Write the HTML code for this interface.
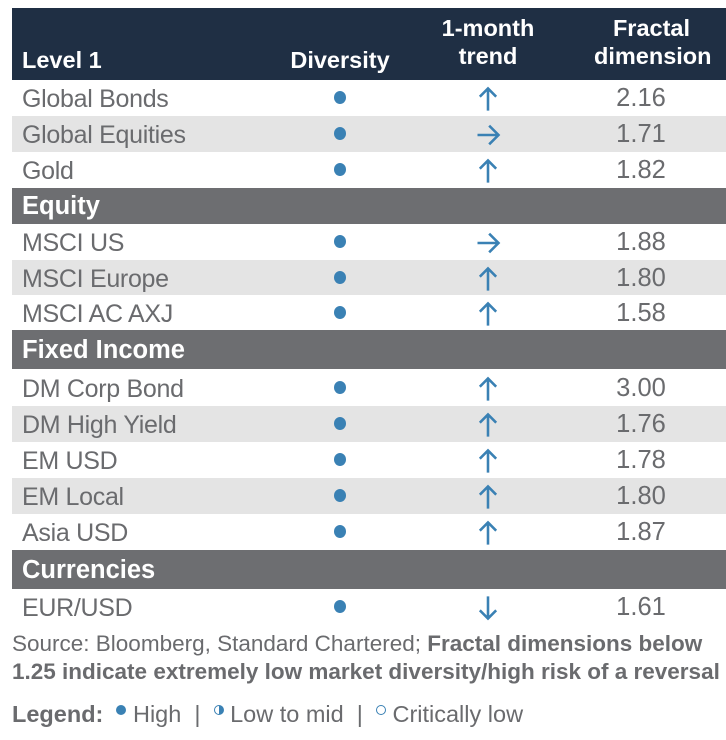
<!DOCTYPE html>
<html><head><meta charset="utf-8"><style>
body{margin:0;width:726px;height:740px;background:#fff;font-family:"Liberation Sans",sans-serif;position:relative;overflow:hidden}
.r{position:absolute;left:12px;width:714px}
.t{position:absolute;left:10px;font-size:25px;color:#6a6b6e;white-space:nowrap;line-height:1;letter-spacing:-0.3px}
.s{background:#6d6e71}
.s .t{color:#fff;font-weight:bold;left:10px;font-size:25.5px;letter-spacing:0}
.g{background:#e4e4e4}
.d{position:absolute;left:322px;width:12px;height:13px;border-radius:50%;background:#3a81b4}
.v{position:absolute;left:592px;width:74px;text-align:center;font-size:25.5px;color:#6a6b6e;line-height:1}
svg.a{position:absolute;left:462px}
.h{position:absolute;color:#fff;font-weight:bold;font-size:23.5px;line-height:28px;text-align:center;white-space:nowrap}
</style></head><body>
<div class="r" style="top:8px;height:72px;background:#1f2f44">
 <div class="h" style="top:38px;text-align:left;left:10px">Level 1</div>
 <div class="h" style="left:272px;top:38px;width:112px">Diversity</div>
 <div class="h" style="left:420px;top:6px;width:112px">1-month<br>trend</div>
 <div class="h" style="left:582px;top:6px;width:115px">Fractal<br>dimension</div>
</div>
<div id="rows"></div>
<script>
const U='<svg class="a" width="28" height="28" viewBox="0 0 24 24" style="top:ARRT"><path d="M12 22V3M5 10l7-7 7 7" stroke="#3a81b4" stroke-width="2.2" fill="none"/></svg>';
const R='<svg class="a" width="28" height="28" viewBox="0 0 24 24" style="top:ARRT"><path d="M3 12h18M13 4l8 8-8 8" stroke="#3a81b4" stroke-width="2.2" fill="none"/></svg>';
const D='<svg class="a" width="28" height="28" viewBox="0 0 24 24" style="top:ARRT"><path d="M12 2v19M5 14l7 7 7-7" stroke="#3a81b4" stroke-width="2.2" fill="none"/></svg>';
const rows=[
[80,36,'Global Bonds',U,'2.16',0],[116,36,'Global Equities',R,'1.71',1],[152,36,'Gold',U,'1.82',0],
[188,36,'Equity'],[224,36,'MSCI US',R,'1.88',0],[260,35,'MSCI Europe',U,'1.80',1],[295,35,'MSCI AC AXJ',U,'1.58',0],
[330,39,'Fixed Income'],[369,37,'DM Corp Bond',U,'3.00',0],[406,36,'DM High Yield',U,'1.76',1],[442,36,'EM USD',U,'1.78',0],
[478,36,'EM Local',U,'1.80',1],[514,36,'Asia USD',U,'1.87',0],[550,39,'Currencies'],[589,35,'EUR/USD',D,'1.61',0]];
let h='';
for(const r of rows){
 const [top,ht,l]=r;
 if(r.length==3){h+=`<div class="r s" style="top:${top}px;height:${ht}px"><div class="t" style="top:${ht/2-12}px">${l}</div></div>`;continue;}
 const c=ht/2;
 h+=`<div class="r ${r[5]?'g':''}" style="top:${top}px;height:${ht}px"><div class="t" style="top:${c-11}px">${l}</div><div class="d" style="top:${c-7}px"></div>${r[3].replace('ARRT',(c-13)+'px')}<div class="v" style="top:${c-12}px">${r[4]}</div></div>`;
}
document.getElementById('rows').outerHTML=h;
</script>
<div style="position:absolute;left:12px;top:630px;font-size:22.5px;line-height:28px;color:#6a6b6e;white-space:nowrap">Source: Bloomberg, Standard Chartered; <b>Fractal dimensions below<br>1.25 indicate extremely low market diversity/high risk of a reversal</b></div>
<div style="position:absolute;left:12px;top:701px;font-size:23.5px;line-height:26px;color:#6a6b6e;white-space:nowrap"><b>Legend:</b>&nbsp; <span style="display:inline-block;width:10px;height:10px;border-radius:50%;background:#3a81b4;vertical-align:7px"></span> High &nbsp;| &nbsp;<span style="display:inline-block;width:8px;height:8px;border-radius:50%;border:1.5px solid #3a81b4;background:linear-gradient(90deg,#fff 50%,#3a81b4 50%);vertical-align:7px"></span> Low to mid &nbsp;| &nbsp;<span style="display:inline-block;width:8px;height:8px;border-radius:50%;border:1.5px solid #3a81b4;vertical-align:7px"></span> Critically low</div>
</body></html>
